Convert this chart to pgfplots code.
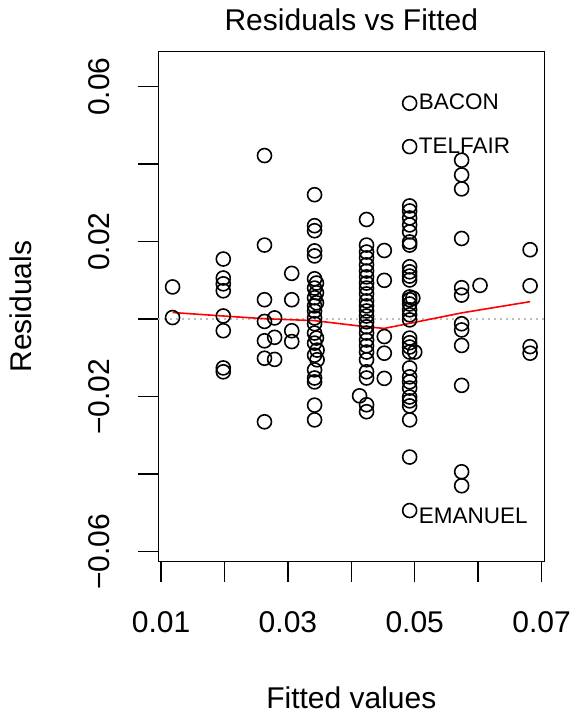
\documentclass[border=0pt]{standalone}
\usepackage{fontspec}
\setmainfont{Liberation Sans}
\usepackage{pgfplots}
\pgfplotsset{compat=1.18}
\newcommand{\bigf}{\fontsize{30bp}{36bp}\selectfont}
\newcommand{\smallf}{\fontsize{22.5bp}{27bp}\selectfont}
\begin{document}
\begin{tikzpicture}
\path[use as bounding box] (0,0) rectangle (574bp,715bp);
\begin{axis}[
  at={(158.3bp,153.3bp)}, anchor=south west,
  width=386bp, height=510bp, scale only axis,
  xmin=0.00955, xmax=0.07044, ymin=-0.0626, ymax=0.0690,
  clip=false,
  axis line style={line width=1.5bp, black},
  tick align=outside, major tick length=20bp,
  tick style={line width=1.5bp, black},
  xtick pos=bottom, ytick pos=left,
  scaled ticks=false,
  xtick={0.01,0.02,0.03,0.04,0.05,0.06,0.07},
  xticklabels={0.01,,0.03,,0.05,,0.07},
  ytick={-0.06,-0.04,-0.02,0,0.02,0.04,0.06},
  yticklabels={−0.06,,−0.02,,0.02,,0.06},
  xticklabel style={anchor=north, inner sep=0pt, yshift=-30bp, font=\bigf},
  yticklabel style={xshift=-28bp, rotate=90, anchor=south, inner sep=0pt, font=\bigf},
  title={Residuals vs Fitted},
  title style={at={(axis description cs:0.5,1.0512)}, anchor=center, inner sep=0pt, font=\bigf},
  xlabel={Fitted values},
  xlabel style={at={(axis description cs:0.5,-0.266)}, anchor=center, inner sep=0pt, font=\bigf},
  ylabel={Residuals},
  every axis y label/.style={at={(axis description cs:-0.355,0.5)}, rotate=90, anchor=center, inner sep=0pt, font=\bigf},
]
% dotted zero line
\addplot[color={rgb,255:red,190;green,190;blue,190}, line width=1.5bp, dash pattern=on 1.5bp off 4.5bp, forget plot] coordinates {(0.00955,0) (0.07044,0)};
% residual points
\addplot[only marks, mark=o, mark size=7bp, mark options={line width=1.6bp, black}] coordinates {
(0.0118,0.0083) (0.0118,0.0004)
(0.0198,0.0155) (0.0198,0.0106) (0.0198,0.0091) (0.0198,0.0073) (0.0198,0.0008) (0.0198,-0.0030) (0.0198,-0.0126) (0.0198,-0.0136)
(0.0263,0.0422) (0.0263,0.0191) (0.0263,0.0050) (0.0263,-0.0006) (0.0263,-0.0056) (0.0263,-0.0101) (0.0263,-0.0265)
(0.0279,0.0003) (0.0279,-0.0047) (0.0279,-0.0104)
(0.0306,0.0118) (0.0306,0.0050) (0.0306,-0.0030) (0.0306,-0.0058)
(0.0342,0.0321) (0.0342,0.0241) (0.0342,0.0228) (0.0342,0.0176) (0.0342,0.0163) (0.0342,0.0104) (0.0345,0.0093) (0.0342,0.0080) (0.0345,0.0068) (0.0342,0.0055) (0.0345,0.0042) (0.0342,0.0034) (0.0342,0.0021) (0.0342,0.0003) (0.0342,-0.0012) (0.0342,-0.0036) (0.0345,-0.0049) (0.0342,-0.0062) (0.0346,-0.0080) (0.0342,-0.0093) (0.0346,-0.0105) (0.0342,-0.0131) (0.0342,-0.0152) (0.0342,-0.0162) (0.0342,-0.0222) (0.0342,-0.0260)
(0.0424,0.0257) (0.0424,0.0191) (0.0424,0.0173) (0.0424,0.0158) (0.0424,0.0140) (0.0424,0.0124) (0.0424,0.0109) (0.0424,0.0093) (0.0424,0.0080) (0.0424,0.0065) (0.0424,0.0047) (0.0424,0.0034) (0.0424,0.0021) (0.0424,0.0008) (0.0424,-0.0007) (0.0424,-0.0020) (0.0424,-0.0036) (0.0424,-0.0054) (0.0424,-0.0069) (0.0424,-0.0085) (0.0424,-0.0105) (0.0424,-0.0136) (0.0424,-0.0152) (0.0424,-0.0221) (0.0424,-0.0239) (0.0413,-0.0198)
(0.0452,0.0177) (0.0452,0.0100) (0.0452,-0.0045) (0.0452,-0.0088) (0.0452,-0.0153)
(0.0492,0.0557) (0.0492,0.0445) (0.0492,0.0292) (0.0492,0.0279) (0.0492,0.0261) (0.0492,0.0243) (0.0492,0.0225) (0.0492,0.0199) (0.0492,0.0191) (0.0492,0.0135) (0.0492,0.0122) (0.0492,0.0111) (0.0492,0.0101) (0.0492,0.0057) (0.0492,0.0050) (0.0492,0.0039) (0.0492,0.0024) (0.0492,0.0011) (0.0492,-0.0002) (0.0492,-0.0049) (0.0492,-0.0061) (0.0492,-0.0072) (0.0492,-0.0085) (0.0492,-0.0126) (0.0492,-0.0149) (0.0492,-0.0162) (0.0492,-0.0178) (0.0492,-0.0201) (0.0492,-0.0211) (0.0492,-0.0224) (0.0492,-0.0260) (0.0492,-0.0356) (0.0492,-0.0494) (0.0497,0.0054) (0.0500,-0.0085)
(0.0574,0.0410) (0.0574,0.0372) (0.0574,0.0336) (0.0574,0.0208) (0.0574,0.0081) (0.0574,0.0062) (0.0574,-0.0012) (0.0574,-0.0028) (0.0574,-0.0068) (0.0574,-0.0171) (0.0574,-0.0394) (0.0574,-0.0430)
(0.0603,0.0087)
(0.0682,0.0179) (0.0682,0.0086) (0.0682,-0.0071) (0.0682,-0.0088)
};
% smoother
\addplot[red, line width=1.6bp] coordinates {
(0.0118,0.0017) (0.0198,0.0008) (0.0263,0.0001) (0.0342,-0.0004) (0.0424,-0.0020) (0.0452,-0.0024) (0.0492,-0.0011) (0.0574,0.0016) (0.0682,0.0045)
};
\node[anchor=west, inner sep=0pt, xshift=9bp, yshift=1bp, font=\smallf] at (axis cs:0.0492,0.0557) {BACON};
\node[anchor=west, inner sep=0pt, xshift=9bp, yshift=1bp, font=\smallf] at (axis cs:0.0492,0.0445) {TELFAIR};
\node[anchor=west, inner sep=0pt, xshift=9bp, yshift=-5bp, font=\smallf] at (axis cs:0.0492,-0.0494) {EMANUEL};
\end{axis}
\end{tikzpicture}
\end{document}
